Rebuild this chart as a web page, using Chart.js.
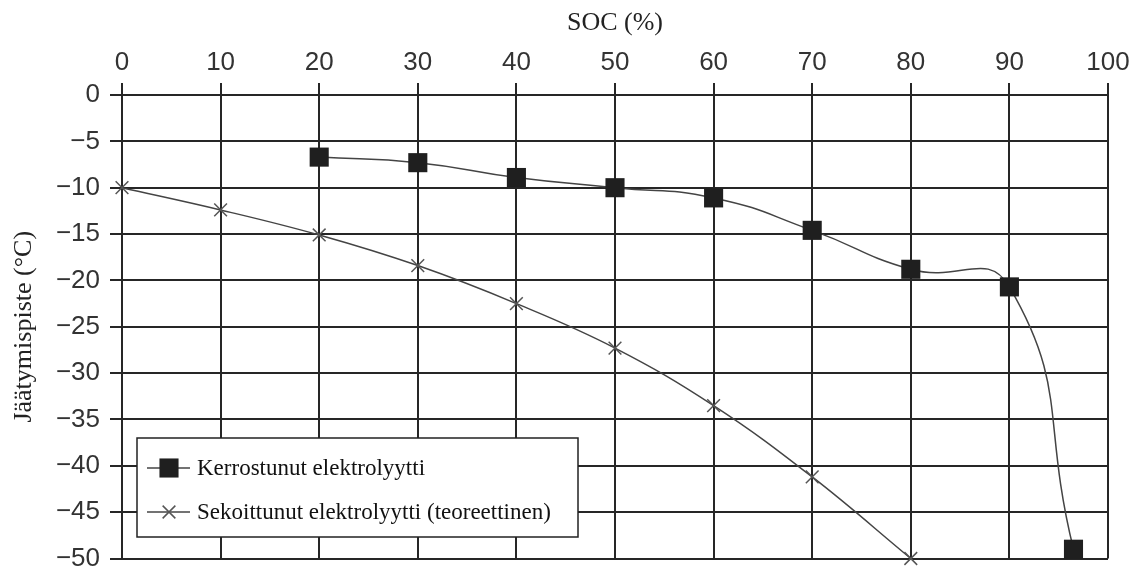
<!DOCTYPE html>
<html>
<head>
<meta charset="utf-8">
<script src="https://cdn.jsdelivr.net/npm/chart.js@4"></script>
<style>
  html, body { margin: 0; padding: 0; background: #fff; }
  #wrap { width: 1146px; height: 572px; position: relative; }
</style>
</head>
<body>
<div id="wrap"><canvas id="c" width="1146" height="572"></canvas></div>
<script>
// ---- data ----
const xTitle = 'SOC (%)';
const yTitle = 'Jäätymispiste (°C)';
const layeredLabel = 'Kerrostunut elektrolyytti';
const layeredSoc = [20, 30, 40, 50, 60, 70, 80, 90, 96.5];
const layeredTemp = [-6.7, -7.3, -8.9, -10.0, -11.1, -14.6, -18.8, -20.7, -49.0];
const mixedLabel = 'Sekoittunut elektrolyytti (teoreettinen)';
const mixedSoc = [0, 10, 20, 30, 40, 50, 60, 70, 80];
const mixedTemp = [-10.0, -12.4, -15.1, -18.4, -22.5, -27.3, -33.5, -41.2, -50.0];
const xTickStep = 10;
const yTickStep = 5;

const toPoints = (xs, ys) => xs.map((x, i) => ({ x: x, y: ys[i] }));

const gridColor = '#262626';
const sansFont = 'Liberation Sans, Arial, sans-serif';
const serifFont = 'Liberation Serif, Times New Roman, serif';

// legend drawn as a boxed panel inside the plot area
const boxedLegend = {
  id: 'boxedLegend',
  afterDatasetsDraw(chart) {
    const ctx = chart.ctx;
    const left = 137, top = 438, w = 441, h = 99;
    ctx.save();
    ctx.fillStyle = '#fff';
    ctx.fillRect(left, top, w, h);
    ctx.strokeStyle = '#222';
    ctx.lineWidth = 1.5;
    ctx.strokeRect(left, top, w, h);
    const rows = [top + 30, top + 74];
    chart.data.datasets.forEach((ds, i) => {
      const y = rows[i];
      ctx.strokeStyle = ds.borderColor;
      ctx.lineWidth = ds.borderWidth;
      ctx.beginPath();
      ctx.moveTo(left + 10, y);
      ctx.lineTo(left + 53, y);
      ctx.stroke();
      ctx.fillStyle = ds.pointBackgroundColor;
      ctx.strokeStyle = ds.pointBorderColor;
      ctx.lineWidth = ds.pointBorderWidth;
      Chart.helpers.drawPoint(ctx, {
        pointStyle: ds.pointStyle,
        radius: ds.pointRadius,
        rotation: 0,
        borderWidth: ds.pointBorderWidth
      }, left + 32, y);
      ctx.fillStyle = '#111';
      ctx.font = '23px ' + serifFont;
      ctx.textBaseline = 'middle';
      ctx.textAlign = 'left';
      ctx.fillText(ds.label, left + 60, y + 1);
    });
    ctx.restore();
  }
};

const minus = v => (v < 0 ? '\u2212' + Math.abs(v) : String(v));

new Chart(document.getElementById('c'), {
  type: 'line',
  data: {
    datasets: [
      {
        label: layeredLabel,
        data: toPoints(layeredSoc, layeredTemp),
        borderColor: '#444',
        borderWidth: 1.5,
        tension: 0.5,
        pointStyle: 'rect',
        pointRadius: 13.5,
        pointHoverRadius: 13.5,
        pointBackgroundColor: '#1f1f1f',
        pointBorderColor: '#1f1f1f',
        pointBorderWidth: 0,
        clip: false
      },
      {
        label: mixedLabel,
        data: toPoints(mixedSoc, mixedTemp),
        borderColor: '#444',
        borderWidth: 1.5,
        tension: 0.4,
        pointStyle: 'crossRot',
        pointRadius: 9,
        pointHoverRadius: 9,
        pointBackgroundColor: '#555',
        pointBorderColor: '#555',
        pointBorderWidth: 1.5,
        clip: false
      }
    ]
  },
  options: {
    responsive: false,
    animation: false,
    devicePixelRatio: 1,
    layout: { padding: { left: 0, right: 38, top: 0, bottom: 0 } },
    plugins: {
      legend: { display: false },
      tooltip: { enabled: false }
    },
    scales: {
      x: {
        type: 'linear',
        position: 'top',
        min: 0,
        max: 100,
        afterFit(scale) { scale.height = 95; },
        ticks: {
          stepSize: xTickStep,
          color: '#333',
          font: { family: sansFont, size: 26 },
          padding: 5,
          maxRotation: 0
        },
        grid: { color: gridColor, lineWidth: 2, tickLength: 12, drawTicks: true },
        border: { color: gridColor, width: 2 },
        title: {
          display: true,
          text: xTitle,
          color: '#222',
          font: { family: serifFont, size: 26 },
          padding: { top: 8, bottom: 0 }
        }
      },
      y: {
        type: 'linear',
        min: -50,
        max: 0,
        afterFit(scale) { scale.width = 122; scale.paddingBottom = 12; },
        ticks: {
          stepSize: yTickStep,
          color: '#333',
          font: { family: sansFont, size: 26 },
          padding: 10,
          callback: v => minus(v)
        },
        grid: { color: gridColor, lineWidth: 2, tickLength: 12, drawTicks: true },
        border: { color: gridColor, width: 2 },
        title: {
          display: true,
          text: yTitle,
          color: '#222',
          font: { family: serifFont, size: 26 },
          padding: { top: 9, bottom: 0 }
        }
      }
    }
  },
  plugins: [boxedLegend]
});
</script>
</body>
</html>
